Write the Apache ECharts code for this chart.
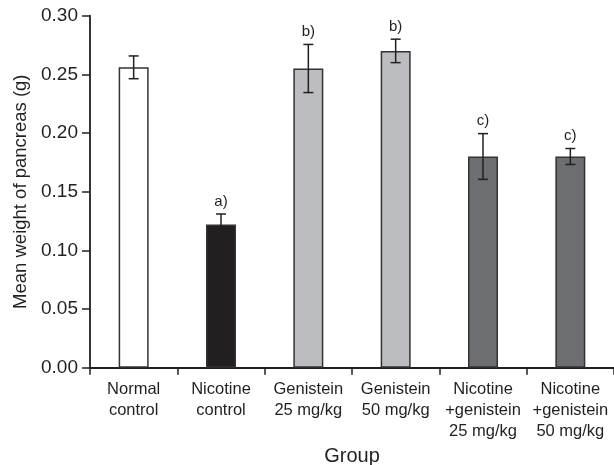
<!DOCTYPE html>
<html><head><meta charset="utf-8">
<script src="https://cdn.jsdelivr.net/npm/echarts@6/dist/echarts.min.js"></script>
<style>html,body{margin:0;padding:0;background:#fff}#c{width:614px;height:465px}</style>
</head><body><div id="c"></div>
<script>
var categories = ['Normal\ncontrol','Nicotine\ncontrol','Genistein\n25 mg/kg','Genistein\n50 mg/kg','Nicotine\n+genistein\n25 mg/kg','Nicotine\n+genistein\n50 mg/kg'];
var means = [0.256, 0.122, 0.255, 0.270, 0.180, 0.180];
var errors = [0.0097, 0.009, 0.0205, 0.010, 0.0195, 0.0068];
var sigLabels = ['', 'a)', 'b)', 'b)', 'c)', 'c)'];
var barColors = ['#ffffff', '#231f20', '#bcbdc0', '#bcbdc0', '#6d6e71', '#6d6e71'];
var yTicks = [0, 0.05, 0.10, 0.15, 0.20, 0.25, 0.30];

var font = 'Liberation Sans, Arial, Helvetica, sans-serif';
var ink = '#231f20';
var chart = echarts.init(document.getElementById('c'));
chart.setOption({
  animation: false,
  grid: {left: 90, right: 0, top: 15.7, bottom: 97.3, outerBoundsMode: 'none', containLabel: false},
  xAxis: {
    type: 'category', data: categories,
    name: 'Group', nameLocation: 'middle', nameGap: 75,
    nameTextStyle: {fontFamily: font, fontSize: 20, color: ink},
    axisLine: {lineStyle: {color: ink, width: 1.8}},
    axisTick: {show: true, length: 7, lineStyle: {color: ink, width: 1.5}},
    axisLabel: {fontFamily: font, fontSize: 16.5, color: ink, lineHeight: 21, margin: 11, interval: 0}
  },
  yAxis: {
    type: 'value', min: 0, max: 0.30, interval: 0.05,
    name: 'Mean weight of pancreas (g)', nameLocation: 'middle', nameGap: 60,
    nameTextStyle: {fontFamily: font, fontSize: 18.5, color: ink},
    axisLine: {show: true, lineStyle: {color: ink, width: 1.8}},
    axisTick: {show: true, length: 8, lineStyle: {color: ink, width: 1.5}},
    splitLine: {show: false},
    axisLabel: {fontFamily: font, fontSize: 19, color: ink, margin: 12,
      formatter: function (v) { return v.toFixed(2); }}
  },
  series: [{
    type: 'bar', barWidth: 30,
    data: means.map(function (m, i) {
      return {value: m, itemStyle: {color: barColors[i], borderColor: '#333', borderWidth: 1.5}};
    })
  }, {
    type: 'custom',
    data: means.map(function (m, i) { return [i, m, errors[i]]; }),
    renderItem: function (params, api) {
      var i = api.value(0), m = api.value(1), e = api.value(2);
      var top = api.coord([i, m + e]);
      var bot = api.coord([i, m - e]);
      var x = top[0], hw = 5;
      var st = {stroke: ink, lineWidth: 1.5};
      return {
        type: 'group',
        children: [
          {type: 'line', shape: {x1: x, y1: top[1], x2: x, y2: bot[1]}, style: st},
          {type: 'line', shape: {x1: x - hw, y1: top[1], x2: x + hw, y2: top[1]}, style: st},
          {type: 'line', shape: {x1: x - hw, y1: bot[1], x2: x + hw, y2: bot[1]}, style: st},
          {type: 'text', x: x, y: top[1] - 5,
            style: {text: sigLabels[i], fill: ink, font: '15px ' + font, align: 'center', verticalAlign: 'bottom'}}
        ]
      };
    },
    z: 5
  }]
});
</script></body></html>
